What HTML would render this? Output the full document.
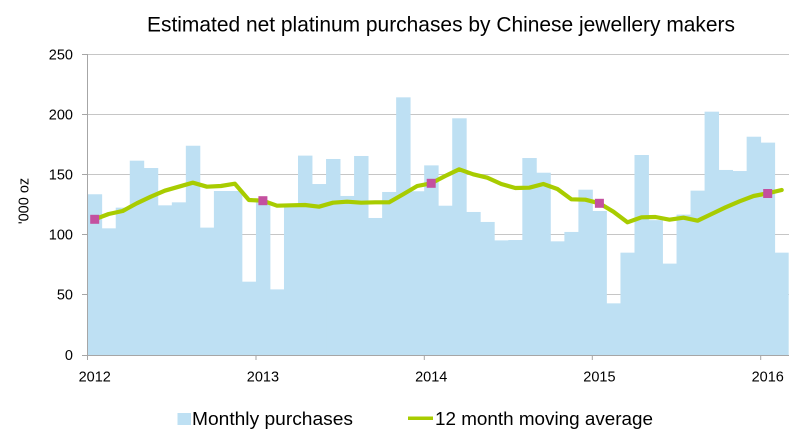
<!DOCTYPE html>
<html>
<head>
<meta charset="utf-8">
<style>
html,body{margin:0;padding:0;background:#fff;}
svg{display:block;font-family:"Liberation Sans",sans-serif;}
</style>
</head>
<body>
<svg width="802" height="430" viewBox="0 0 802 430" xmlns="http://www.w3.org/2000/svg">
<rect width="802" height="430" fill="#fff"/>
<text x="147" y="31.7" font-size="21" fill="#000" textLength="588" lengthAdjust="spacingAndGlyphs">Estimated net platinum purchases by Chinese jewellery makers</text>
<g stroke="#c6c6c6" stroke-width="1">
<line x1="82" y1="54.5" x2="789" y2="54.5"/>
<line x1="82" y1="114.5" x2="789" y2="114.5"/>
<line x1="82" y1="174.5" x2="789" y2="174.5"/>
<line x1="82" y1="234.5" x2="789" y2="234.5"/>
<line x1="82" y1="294.5" x2="789" y2="294.5"/>
</g>
<g transform="translate(87.7,355) scale(14.02,-1.204)" fill="#bee0f3">
<rect x="0" y="0" width="1.03" height="133.5"/>
<rect x="1" y="0" width="1.03" height="105.2"/>
<rect x="2" y="0" width="1.03" height="122.4"/>
<rect x="3" y="0" width="1.03" height="161.4"/>
<rect x="4" y="0" width="1.03" height="155.3"/>
<rect x="5" y="0" width="1.03" height="124.3"/>
<rect x="6" y="0" width="1.03" height="126.8"/>
<rect x="7" y="0" width="1.03" height="173.8"/>
<rect x="8" y="0" width="1.03" height="105.8"/>
<rect x="9" y="0" width="1.03" height="136.2"/>
<rect x="10" y="0" width="1.03" height="136.2"/>
<rect x="11" y="0" width="1.03" height="60.9"/>
<rect x="12" y="0" width="1.03" height="127"/>
<rect x="13" y="0" width="1.03" height="54.5"/>
<rect x="14" y="0" width="1.03" height="123"/>
<rect x="15" y="0" width="1.03" height="165.6"/>
<rect x="16" y="0" width="1.03" height="142"/>
<rect x="17" y="0" width="1.03" height="162.8"/>
<rect x="18" y="0" width="1.03" height="132.1"/>
<rect x="19" y="0" width="1.03" height="165.3"/>
<rect x="20" y="0" width="1.03" height="113.8"/>
<rect x="21" y="0" width="1.03" height="135.4"/>
<rect x="22" y="0" width="1.03" height="214"/>
<rect x="23" y="0" width="1.03" height="136"/>
<rect x="24" y="0" width="1.03" height="157.5"/>
<rect x="25" y="0" width="1.03" height="124"/>
<rect x="26" y="0" width="1.03" height="196.6"/>
<rect x="27" y="0" width="1.03" height="118.8"/>
<rect x="28" y="0" width="1.03" height="110.5"/>
<rect x="29" y="0" width="1.03" height="95.2"/>
<rect x="30" y="0" width="1.03" height="95.5"/>
<rect x="31" y="0" width="1.03" height="163.6"/>
<rect x="32" y="0" width="1.03" height="151.4"/>
<rect x="33" y="0" width="1.03" height="94.4"/>
<rect x="34" y="0" width="1.03" height="102.2"/>
<rect x="35" y="0" width="1.03" height="137.3"/>
<rect x="36" y="0" width="1.03" height="119.6"/>
<rect x="37" y="0" width="1.03" height="42.9"/>
<rect x="38" y="0" width="1.03" height="85"/>
<rect x="39" y="0" width="1.03" height="166.1"/>
<rect x="40" y="0" width="1.03" height="112"/>
<rect x="41" y="0" width="1.03" height="75.9"/>
<rect x="42" y="0" width="1.03" height="116.6"/>
<rect x="43" y="0" width="1.03" height="136.5"/>
<rect x="44" y="0" width="1.03" height="202.1"/>
<rect x="45" y="0" width="1.03" height="153.7"/>
<rect x="46" y="0" width="1.03" height="152.8"/>
<rect x="47" y="0" width="1.03" height="181.3"/>
<rect x="48" y="0" width="1.03" height="176.4"/>
<rect x="49" y="0" width="1.0" height="85"/>
</g>
<g stroke="#a6a6a6" stroke-width="1">
<line x1="87.5" y1="54" x2="87.5" y2="355"/>
<line x1="82" y1="355.5" x2="789" y2="355.5"/>
<line x1="82" y1="54.5" x2="88" y2="54.5"/>
<line x1="82" y1="114.5" x2="88" y2="114.5"/>
<line x1="82" y1="174.5" x2="88" y2="174.5"/>
<line x1="82" y1="234.5" x2="88" y2="234.5"/>
<line x1="82" y1="294.5" x2="88" y2="294.5"/>
<line x1="87.5" y1="355" x2="87.5" y2="360"/>
<line x1="256" y1="355" x2="256" y2="360"/>
<line x1="424.3" y1="355" x2="424.3" y2="360"/>
<line x1="592.3" y1="355" x2="592.3" y2="360"/>
<line x1="760.7" y1="355" x2="760.7" y2="360"/>
</g>
<polyline fill="none" stroke="#a8cc00" stroke-width="4.2" stroke-linejoin="round" stroke-linecap="round" points="94.7,219.3 108.7,214 122.7,211 136.8,203.3 150.8,196.7 164.8,190.7 178.8,186.7 192.8,182.7 206.9,186.7 220.9,186 234.9,183.7 248.9,200 262.9,200.7 277,205.7 291,205.3 305,205 319,206.7 333,202.7 347.1,201.7 361.1,202.7 375.1,202.3 389.1,202.3 403.1,194.3 417.2,186 431.2,183.3 445.2,176 459.2,169.3 473.2,174.3 487.3,177.7 501.3,184 515.3,188 529.3,187.7 543.3,184 557.4,189 571.4,199.3 585.4,199.7 599.4,203.3 613.4,211.7 627.5,222.3 641.5,217.3 655.5,217 669.5,219.7 683.5,217.7 697.6,220.7 711.6,214 725.6,207.3 739.6,201.3 753.6,196 767.7,193.3 781.7,190"/>
<g fill="#c4509f">
<rect x="90.2" y="214.8" width="9" height="9"/>
<rect x="258.4" y="196.2" width="9" height="9"/>
<rect x="426.7" y="178.8" width="9" height="9"/>
<rect x="594.9" y="198.8" width="9" height="9"/>
<rect x="763.2" y="189" width="9" height="9"/>
</g>
<g font-size="14.5" fill="#000" text-anchor="end">
<text x="73" y="59.5">250</text>
<text x="73" y="119.5">200</text>
<text x="73" y="179.5">150</text>
<text x="73" y="239.5">100</text>
<text x="73" y="299.5">50</text>
<text x="73" y="360">0</text>
</g>
<g font-size="14.5" fill="#000" text-anchor="middle">
<text x="94.7" y="381.5">2012</text>
<text x="262.9" y="381.5">2013</text>
<text x="431.2" y="381.5">2014</text>
<text x="599.4" y="381.5">2015</text>
<text x="767.7" y="381.5">2016</text>
</g>
<text transform="translate(28.5,201) rotate(-90)" font-size="14.5" fill="#000" text-anchor="middle">'000 oz</text>
<rect x="177.5" y="413" width="13.5" height="12" fill="#bee0f3"/>
<text x="192" y="425" font-size="18.5" fill="#000" textLength="161" lengthAdjust="spacingAndGlyphs">Monthly purchases</text>
<line x1="408" y1="418.3" x2="433" y2="418.3" stroke="#a8cc00" stroke-width="3.5"/>
<text x="435" y="425" font-size="18.5" fill="#000" textLength="218" lengthAdjust="spacingAndGlyphs">12 month moving average</text>
</svg>
</body>
</html>
